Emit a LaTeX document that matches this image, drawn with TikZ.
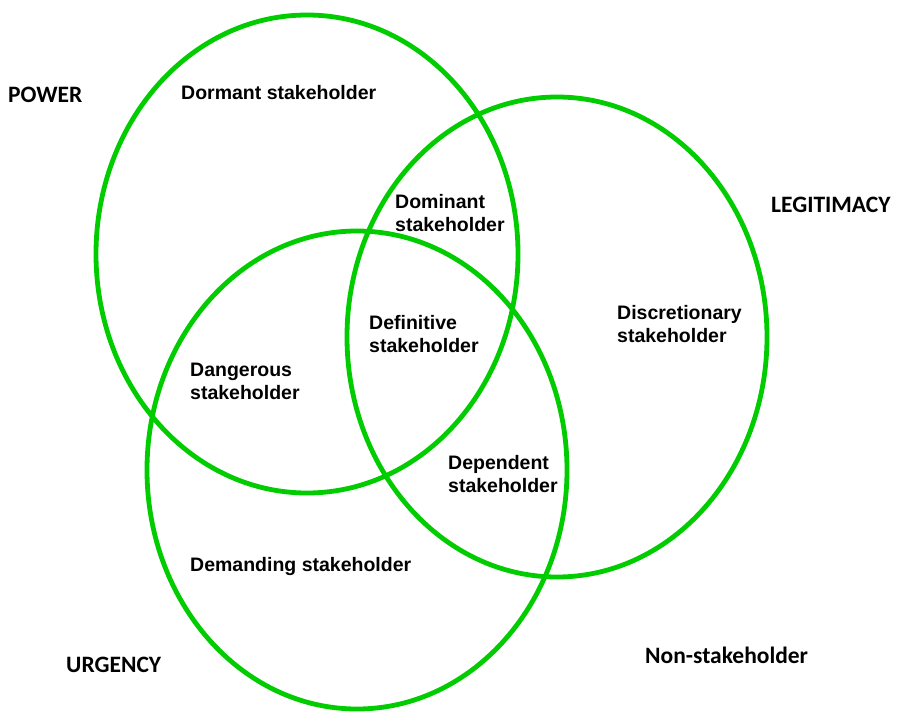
\documentclass[tikz,border=0pt]{standalone}
\usepackage{fontspec}
\setmainfont{Liberation Sans}
\newfontfamily\calibfont{Carlito}
\usetikzlibrary{positioning}
\definecolor{ringgreen}{RGB}{0,204,0}
\tikzset{every node/.style={inner sep=0pt, anchor=north west, align=left},
  ring/.style={draw=ringgreen, line width=4.8pt},
  region/.style={font=\fontsize{19.5}{23}\selectfont\bfseries},
  attr/.style={font=\calibfont\fontsize{23.5}{28}\selectfont\bfseries}}

\begin{document}
\begin{tikzpicture}[x=1pt,y=-1pt]
      \useasboundingbox (0,0) rectangle (897,712);
      % \draw[step=50,gray,ultra thin] (0,0) grid (897,712);
      \draw[ring] (307,254) ellipse [x radius=211pt, y radius=239pt];
      \draw[ring] (557,337) ellipse [x radius=210pt, y radius=240pt];
      \draw[ring] (357,470) ellipse [x radius=210pt, y radius=239pt];

      \node[attr] (power) at (8,87) {POWER};
      \node[attr] (legit) at (771,197) {LEGITIMACY};
      \node[attr] (urgency) at (66,657) {URGENCY};
      \node[attr] (nonstake) at (645,647) {Non-stakeholder};

      \node[region] (dormant) at (181,85) {Dormant stakeholder};
      \node[region] (dominant) at (395,194) {Dominant\\stakeholder};
      \node[region] (definitive) at (369,315) {Definitive\\stakeholder};
      \node[region] (discret) at (617,305) {Discretionary\\stakeholder};
      \node[region] (dangerous) at (190,363) {Dangerous\\stakeholder};
      \node[region] (dependent) at (448,455) {Dependent\\stakeholder};
      \node[region] (demanding) at (190,557) {Demanding stakeholder};
    \end{tikzpicture}
\end{document}
